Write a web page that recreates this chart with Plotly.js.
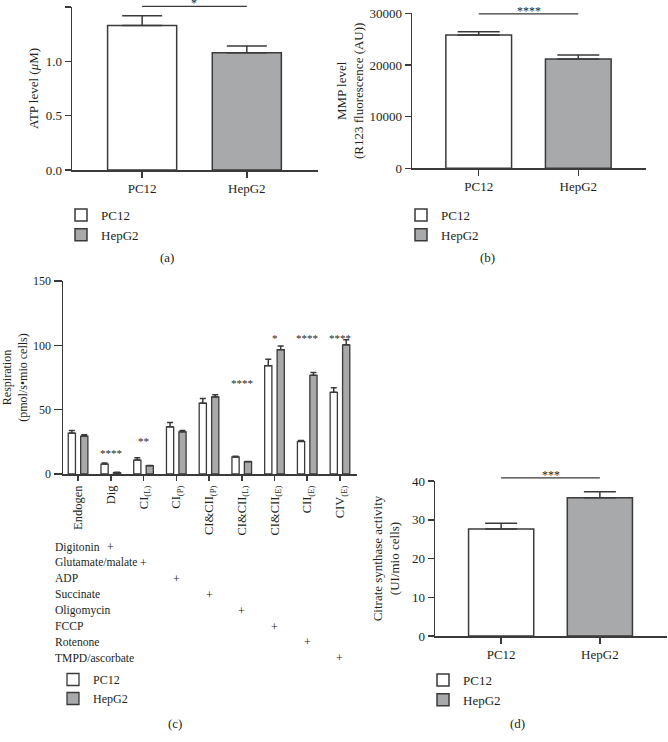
<!DOCTYPE html>
<html><head><meta charset="utf-8">
<script src="https://cdn.plot.ly/plotly-3.0.1.min.js"></script>
<style>html,body{margin:0;padding:0;background:#fff}</style>
</head><body><div id="chart" style="width:668px;height:742px"></div>
<script>
// ---------- data ----------
const groups = ['PC12', 'HepG2'];
// (a) ATP level (µM)
const atpMean = [1.33, 1.08];
const atpSem = [0.09, 0.06];
const atpSig = '*';
// (b) MMP level (R123 fluorescence, AU)
const mmpMean = [25800, 21150];
const mmpSem = [650, 780];
const mmpSig = '****';
// (c) Respiration (pmol/s·mio cells)
const respCategories = ['Endogen', 'Dig', 'CI<sub>(L)</sub>', 'CI<sub>(P)</sub>', 'CI&amp;CII<sub>(P)</sub>',
  'CI&amp;CII<sub>(L)</sub>', 'CI&amp;CII<sub>(E)</sub>', 'CII<sub>(E)</sub>', 'CIV<sub>(E)</sub>'];
const respPC12 = [31.8, 7.7, 10.8, 36.7, 55.0, 13.2, 84.2, 25.3, 63.5];
const respPC12Sem = [2.0, 0.8, 1.8, 3.3, 3.6, 0.5, 4.9, 0.8, 3.6];
const respHepG2 = [29.4, 1.0, 6.5, 32.8, 59.9, 9.6, 96.6, 76.7, 100.4];
const respHepG2Sem = [1.1, 0.3, 0.2, 1.0, 1.6, 0.2, 2.8, 2.1, 3.9];
const respSig = ['', '****', '**', '', '', '****', '*', '****', '****'];
const respSigY = [0, 16, 26, 0, 0, 71, 106, 106, 106];
const treatments = ['Digitonin', 'Glutamate/malate', 'ADP', 'Succinate', 'Oligomycin', 'FCCP', 'Rotenone', 'TMPD/ascorbate'];
const treatmentColumn = [1, 2, 3, 4, 5, 6, 7, 8];
// (d) Citrate synthase activity (UI/mio cells)
const csMean = [27.6, 35.7];
const csSem = [1.5, 1.5];
const csSig = '***';

// ---------- styling ----------
const FONT = 'Liberation Serif, Times New Roman, serif';
const TXT = '#231f20';
const LINE = '#3a3a3a';
const fills = ['#ffffff', '#a8a9ab'];
const W = 668, H = 742;

const dom = {
  a: {x: [72 / W, 318 / W], y: [1 - 170 / H, 1 - 7 / H], r: [0, 1.5]},
  b: {x: [412 / W, 646 / W], y: [1 - 168.3 / H, 1 - 13.3 / H], r: [0, 30000]},
  c: {x: [63 / W, 357 / W], y: [1 - 474 / H, 1 - 281 / H], r: [0, 150]},
  d: {x: [435 / W, 667 / W], y: [1 - 636 / H, 1 - 481 / H], r: [0, 40]}
};
const xr2 = [-0.67, 1.68];
const xrC = [-0.46, 8.52];

function px(d, rng, v) { return d[0] + (v - rng[0]) / (rng[1] - rng[0]) * (d[1] - d[0]); }

function errY(arr, w) {
  return {type: 'data', array: arr, arrayminus: arr.map(() => 0), symmetric: false,
    color: LINE, thickness: 1.5, width: w};
}

const traces = [];
function twoBar(means, sems, xa, ya, leg, capw) {
  groups.forEach((g, i) => {
    traces.push({
      type: 'bar', x: [g], y: [means[i]], name: g, xaxis: xa, yaxis: ya, legend: leg,
      width: 0.66,
      marker: {color: fills[i], line: {color: LINE, width: 1.5}},
      error_y: errY([sems[i]], capw), hoverinfo: 'skip'
    });
  });
}
twoBar(atpMean, atpSem, 'x', 'y', 'legend', 20);
twoBar(mmpMean, mmpSem, 'x2', 'y2', 'legend2', 21);
twoBar(csMean, csSem, 'x4', 'y4', 'legend4', 16);

traces.push({
  type: 'bar', x: respCategories, y: respPC12, name: groups[0], xaxis: 'x3', yaxis: 'y3', legend: 'legend3',
  width: 0.22, offset: -0.3,
  marker: {color: fills[0], line: {color: LINE, width: 1.3}},
  error_y: errY(respPC12Sem, 3), hoverinfo: 'skip'
});
traces.push({
  type: 'bar', x: respCategories, y: respHepG2, name: groups[1], xaxis: 'x3', yaxis: 'y3', legend: 'legend3',
  width: 0.22, offset: 0.08,
  marker: {color: fills[1], line: {color: LINE, width: 1.3}},
  error_y: errY(respHepG2Sem, 3), hoverinfo: 'skip'
});

const axBase = {
  showline: true, linecolor: LINE, linewidth: 1.5, ticks: 'outside', ticklen: 6,
  tickwidth: 1.5, tickcolor: LINE, showgrid: false, zeroline: false, fixedrange: true,
  tickfont: {family: FONT, size: 13, color: TXT}
};

function legendAt(x, y, size) {
  return {x: x, y: y, xanchor: 'left', yanchor: 'top', bgcolor: 'rgba(0,0,0,0)',
    font: {family: FONT, size: size, color: TXT}, itemwidth: 30, tracegroupgap: 0,
    itemclick: false, itemdoubleclick: false};
}

const annotations = [];
const shapes = [];
function sig(d, xrng, yval, txt) {
  const y = px(d.y, d.r, yval);
  shapes.push({type: 'line', xref: 'paper', yref: 'paper',
    x0: px(d.x, xrng, 0), x1: px(d.x, xrng, 1), y0: y, y1: y,
    line: {color: LINE, width: 1.3}});
  annotations.push({xref: 'paper', yref: 'paper', x: px(d.x, xrng, 0.5), y: y,
    xanchor: 'center', yanchor: 'bottom',
    text: txt, showarrow: false, font: {family: FONT, size: 12, color: TXT}, yshift: -6});
}
sig(dom.a, xr2, 1.505, atpSig);
sig(dom.b, xr2, 29880, mmpSig);
sig(dom.d, xr2, 40.8, csSig);

respSig.forEach((s, i) => {
  if (!s) return;
  annotations.push({xref: 'x3', yref: 'y3', x: i, y: respSigY[i], text: s, showarrow: false,
    xanchor: 'center', yanchor: 'middle',
    font: {family: FONT, size: 11, color: TXT}});
});

treatments.forEach((t, i) => {
  const yy = 1 - (547 + 15.9 * i) / H;
  annotations.push({xref: 'paper', yref: 'paper', x: 53 / W, y: yy, xanchor: 'left', yanchor: 'middle',
    text: t, showarrow: false, font: {family: FONT, size: 11.6, color: TXT}});
  annotations.push({xref: 'x3', yref: 'paper', x: treatmentColumn[i], y: yy, xanchor: 'center', yanchor: 'middle',
    text: '+', showarrow: false, font: {family: FONT, size: 12, color: TXT}});
});

[['(a)', 167, 258], ['(b)', 487, 258], ['(c)', 175, 723], ['(d)', 517, 723]].forEach(p => {
  annotations.push({xref: 'paper', yref: 'paper', x: p[1] / W, y: 1 - p[2] / H, text: p[0],
    xanchor: 'center', yanchor: 'middle',
    showarrow: false, font: {family: FONT, size: 13, color: TXT}});
});

const layout = {
  width: W, height: H,
  margin: {l: 0, r: 0, t: 0, b: 0},
  paper_bgcolor: '#ffffff', plot_bgcolor: 'rgba(0,0,0,0)',
  font: {family: FONT, size: 13, color: TXT},
  barmode: 'overlay',
  showlegend: true,
  xaxis: Object.assign({}, axBase, {domain: dom.a.x, anchor: 'y', range: xr2, type: 'category'}),
  yaxis: Object.assign({}, axBase, {domain: dom.a.y, anchor: 'x', range: dom.a.r, tickvals: [0, 0.5, 1, 1.5],
    tickformat: '.1f', title: {text: 'ATP level (<i>μ</i>M)', font: {family: FONT, size: 13, color: TXT}, standoff: 4}}),
  xaxis2: Object.assign({}, axBase, {domain: dom.b.x, anchor: 'y2', range: xr2, type: 'category'}),
  yaxis2: Object.assign({}, axBase, {domain: dom.b.y, anchor: 'x2', range: dom.b.r, tickvals: [0, 10000, 20000, 30000],
    tickformat: 'd', title: {text: 'MMP level<br>(R123 fluorescence (AU))', font: {family: FONT, size: 13, color: TXT}, standoff: 3}}),
  xaxis3: Object.assign({}, axBase, {domain: dom.c.x, anchor: 'y3', range: xrC, type: 'category',
    categoryorder: 'array', categoryarray: respCategories, tickangle: -90, ticklen: 5,
    tickfont: {family: FONT, size: 12.5, color: TXT}}),
  yaxis3: Object.assign({}, axBase, {domain: dom.c.y, anchor: 'x3', range: dom.c.r, tickvals: [0, 50, 100, 150],
    ticklen: 8, tickfont: {family: FONT, size: 12, color: TXT},
    title: {text: 'Respiration<br>(pmol/s•mio cells)', font: {family: FONT, size: 12, color: TXT}, standoff: 4}}),
  xaxis4: Object.assign({}, axBase, {domain: dom.d.x, anchor: 'y4', range: xr2, type: 'category'}),
  yaxis4: Object.assign({}, axBase, {domain: dom.d.y, anchor: 'x4', range: dom.d.r, tickvals: [0, 10, 20, 30, 40],
    title: {text: 'Citrate synthase activity<br>(UI/mio cells)', font: {family: FONT, size: 13, color: TXT}, standoff: 9}}),
  legend: legendAt(61 / W, 1 - 200 / H, 13),
  legend2: legendAt(401 / W, 1 - 200 / H, 13),
  legend3: legendAt(53 / W, 1 - 665 / H, 12),
  legend4: legendAt(423 / W, 1 - 665 / H, 13),
  annotations: annotations,
  shapes: shapes
};

Plotly.newPlot('chart', traces, layout, {staticPlot: true, displayModeBar: false});
</script>
</body></html>
